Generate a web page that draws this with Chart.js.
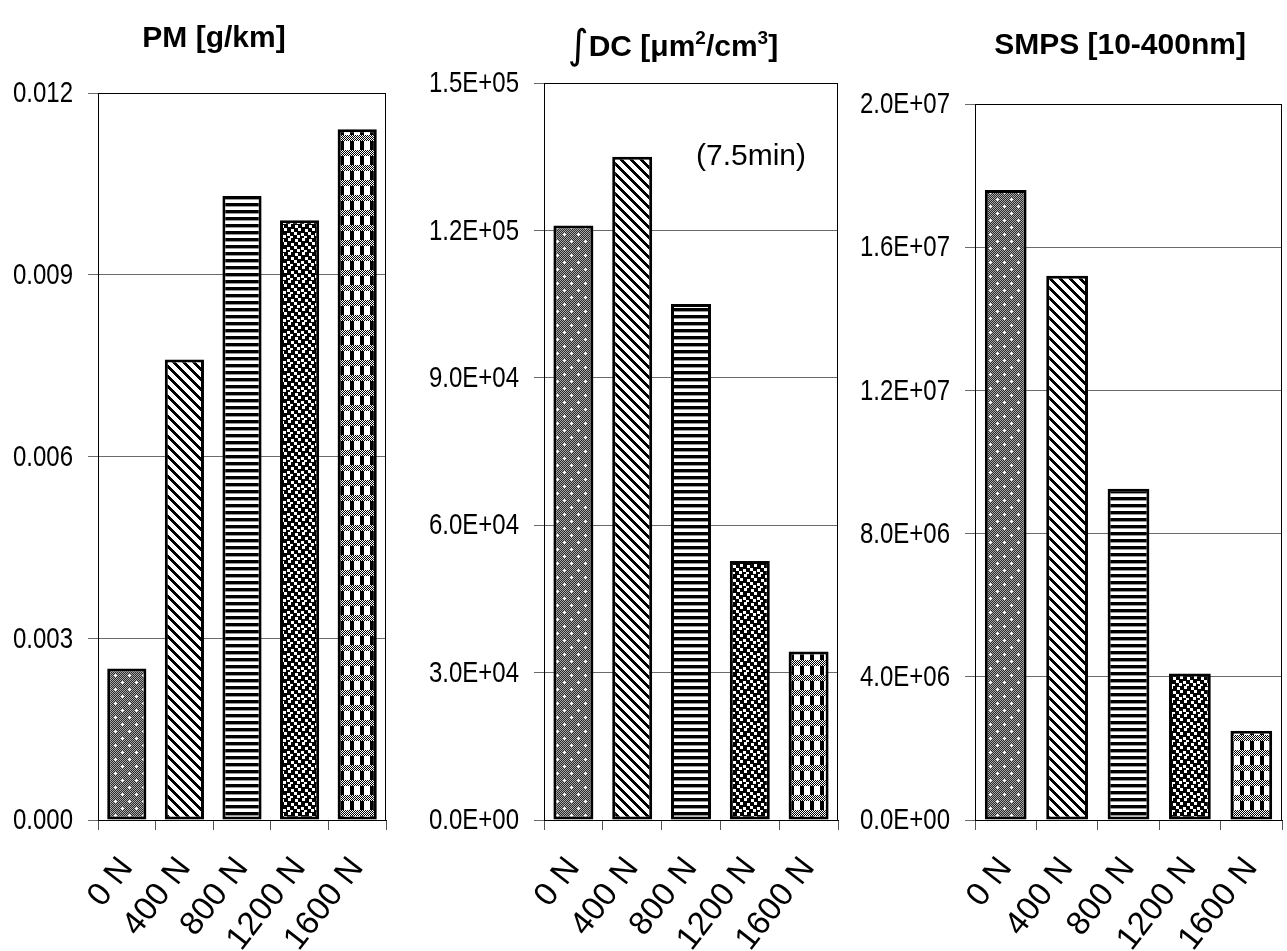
<!DOCTYPE html>
<html>
<head>
<meta charset="utf-8">
<script src="https://cdn.jsdelivr.net/npm/chart.js@4"></script>
<style>
  body { margin: 0; background: #fff; }
  #page { position: relative; width: 1287px; height: 951px; overflow: hidden; background: #fff; }
  .box { position: absolute; top: 0; height: 951px; }
  .title { position: absolute; font-family: "Liberation Sans", Arial, sans-serif; font-weight: bold; font-size: 30px; line-height: 30px; white-space: nowrap; transform: translateX(-50%); color: #000; }
  .title sup { font-size: 19px; line-height: 0; vertical-align: 12px; }
  .integral { font-weight: normal; font-family: "DejaVu Sans", sans-serif; font-size: 40px; vertical-align: -2px; }
  #note { position: absolute; left: 696px; top: 140px; font-family: "Liberation Sans", Arial, sans-serif; font-size: 30px; line-height: 30px; }
</style>
</head>
<body>
<div id="page">
  <div class="box" style="left:0; width:420px;"><canvas id="pmChart"></canvas></div>
  <div class="box" style="left:400px; width:460px;"><canvas id="dcChart"></canvas></div>
  <div class="box" style="left:840px; width:447px;"><canvas id="smpsChart"></canvas></div>
  <div class="title" style="left:214px; top:22px;">PM [g/km]</div>
  <div class="title" style="left:673px; top:29px;"><span class="integral">&int;</span>DC [&mu;m<sup>2</sup>/cm<sup>3</sup>]</div>
  <div class="title" style="left:1120px; top:29px;">SMPS [10-400nm]</div>
  <div id="note">(7.5min)</div>
</div>
<script>
// categories and values
var categories = ["0 N", "400 N", "800 N", "1200 N", "1600 N"];
var pmValues = [0.0025, 0.0076, 0.0103, 0.0099, 0.0114];
var dcValues = [121000, 135000, 105000, 52700, 34300];
var smpsValues = [17600000, 15200000, 9250000, 4090000, 2490000];

// y axis ranges / tick steps
var pmAxis = { max: 0.012, step: 0.003 };
var dcAxis = { max: 150000, step: 30000 };
var smpsAxis = { max: 20000000, step: 4000000 };

// 1.2E+05 style labels
function sci(v) {
  if (v < 1e-9) return "0.0E+00";
  var e = Math.floor(Math.log10(v) + 1e-9);
  var m = v / Math.pow(10, e);
  return m.toFixed(1) + "E+" + (e < 10 ? "0" + e : e);
}

// little tile canvases for the black/white fills
function tile(w, h, draw) {
  var c = document.createElement("canvas");
  c.width = w; c.height = h;
  var g = c.getContext("2d");
  g.fillStyle = "#fff";
  g.fillRect(0, 0, w, h);
  draw(g, w, h);
  return c;
}
function px(g, x, y, col) { g.fillStyle = col; g.fillRect(x, y, 1, 1); }

function makePatterns(ctx) {
  var stipple = tile(14, 14, function (g, w, h) {
    for (var y = 0; y < h; y++)
      for (var x = 0; x < w; x++) px(g, x, y, (x + y) % 2 ? "#2a2a2a" : "#a8a8a8");
    [[3, 3], [10, 10]].forEach(function (p) {
      px(g, p[0], p[1], "#fff"); px(g, p[0] - 1, p[1], "#fff"); px(g, p[0] + 1, p[1], "#fff");
      px(g, p[0], p[1] - 1, "#fff"); px(g, p[0], p[1] + 1, "#fff");
    });
  });
  var diag = tile(10, 10, function (g, w, h) {
    for (var y = 0; y < h; y++)
      for (var x = 0; x < w; x++) if ((((x - y) % 10) + 10) % 10 < 4) px(g, x, y, "#000");
  });
  var horiz = tile(4, 7, function (g, w, h) {
    g.fillStyle = "#000"; g.fillRect(0, 0, w, 3);
    g.fillStyle = "#999"; g.fillRect(0, 3, w, 1);
  });
  var confetti = tile(14, 14, function (g, w, h) {
    g.fillStyle = "#000"; g.fillRect(0, 0, w, h);
    g.fillStyle = "#fff";
    [[1, 1], [8, 0], [4, 4], [11, 5], [0, 8], [7, 9], [3, 11], [10, 12]].forEach(function (p) {
      g.fillRect(p[0], p[1], 3, 3);
    });
  });
  var plaid = tile(10, 15, function (g, w, h) {
    g.fillStyle = "#000"; g.fillRect(0, 0, 4, h);
    for (var y = 0; y < 6; y++)
      for (var x = 0; x < w; x++) px(g, x, y, (x + y) % 2 ? "#000" : "#fff");
  });
  return [stipple, diag, horiz, confetti, plaid].map(function (c) { return ctx.createPattern(c, "repeat"); });
}

// frame round the plot area + squeezed y tick labels
var frame = {
  id: "frame",
  afterDraw: function (chart) {
    var a = chart.chartArea, c = chart.ctx;
    c.save();
    c.strokeStyle = "#000";
    c.lineWidth = 1;
    c.strokeRect(Math.round(a.left) + 0.5, Math.round(a.top) + 0.5, Math.round(a.right - a.left) - 1, Math.round(a.bottom - a.top));

    var s = chart.scales.y;
    c.fillStyle = "#000";
    c.font = "30px 'Liberation Sans', Arial, sans-serif";
    c.textAlign = "right";
    c.textBaseline = "middle";
    s.ticks.forEach(function (t, i) {
      c.save();
      c.translate(s.right - 25, s.getPixelForTick(i));
      c.scale(0.8, 1);
      c.fillText(t.label, 0, 1);
      c.restore();
    });
    c.restore();
  }
};

function barChart(id, values, axis, fmt, axisWidth, padTop, padRight) {
  var ctx = document.getElementById(id).getContext("2d");
  return new Chart(ctx, {
    type: "bar",
    data: {
      labels: categories,
      datasets: [{
        data: values,
        backgroundColor: makePatterns(ctx),
        borderColor: "#000",
        borderWidth: 3,
        borderSkipped: false,
        barPercentage: 0.68,
        categoryPercentage: 1.0
      }]
    },
    options: {
      responsive: true,
      maintainAspectRatio: false,
      animation: false,
      layout: { padding: { top: padTop, right: padRight, left: 0, bottom: 0 } },
      plugins: { legend: { display: false }, tooltip: { enabled: false } },
      scales: {
        x: {
          grid: { drawOnChartArea: false, drawTicks: true, tickLength: 10, color: "#555", offset: true },
          border: { color: "#000", width: 1 },
          ticks: {
            autoSkip: false, minRotation: 52, maxRotation: 52, padding: 20,
            color: "#000", font: { family: "'Liberation Sans', Arial, sans-serif", size: 33 }
          },
          afterFit: function (s) { s.height = 131; s.paddingLeft = 0; s.paddingRight = 0; }
        },
        y: {
          min: 0, max: axis.max,
          grid: { color: "#6a6a6a", lineWidth: 1, tickLength: 10 },
          border: { color: "#000", width: 1 },
          ticks: { display: false, stepSize: axis.step, callback: fmt },
          afterFit: function (s) { s.width = axisWidth; s.paddingTop = 0; s.paddingBottom = 0; }
        }
      }
    },
    plugins: [frame]
  });
}

barChart("pmChart", pmValues, pmAxis, function (v) { return v.toFixed(3); }, 98, 93, 34);
barChart("dcChart", dcValues, dcAxis, function (v) { return sci(v); }, 144, 83, 22);
barChart("smpsChart", smpsValues, smpsAxis, function (v) { return sci(v); }, 135, 104, 5);
</script>
</body>
</html>
